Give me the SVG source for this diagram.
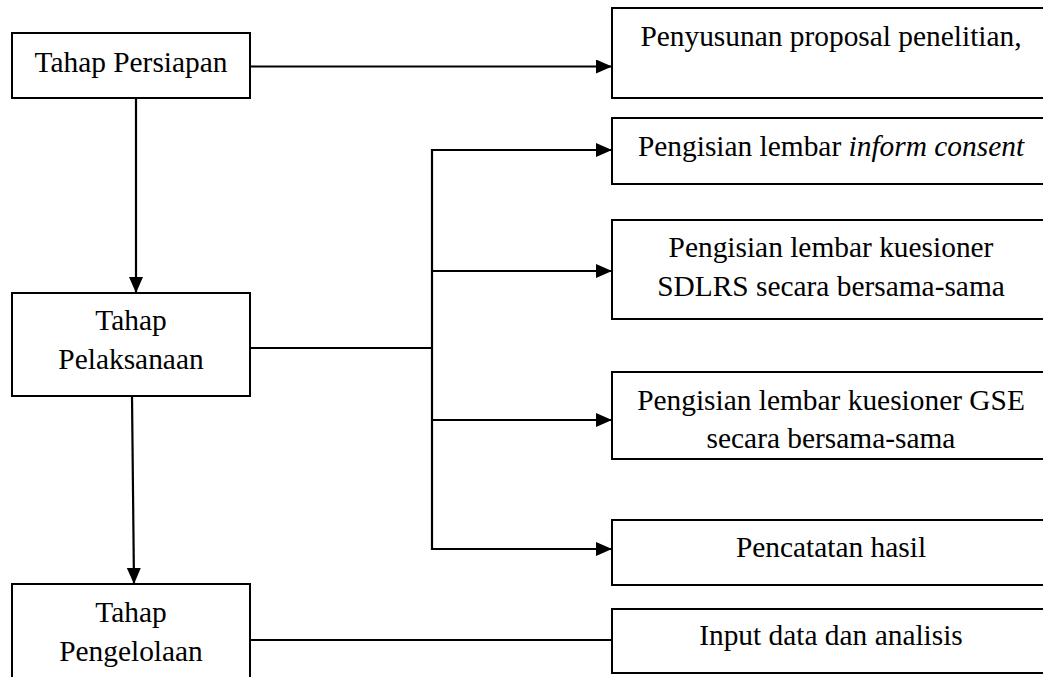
<svg xmlns="http://www.w3.org/2000/svg" width="1043" height="677" viewBox="0 0 1043 677">
<style>
.box{fill:#fff;stroke:#000;stroke-width:2}
.t{font-family:'Liberation Serif','Tinos','DejaVu Serif',serif;font-size:29.4px;fill:#000;text-anchor:middle}
.c{fill:none;stroke:#000;stroke-width:2.2}
</style>
<defs>
<marker id="ah" markerUnits="userSpaceOnUse" markerWidth="17" markerHeight="15" refX="16" refY="7" orient="auto">
<path d="M0,0 L16,7 L0,14 Z" fill="#000"/>
</marker>
</defs>
<rect width="1043" height="677" fill="#fff"/>
<g id="connectors">
<line class="c" x1="250" y1="66.5" x2="612" y2="66.5" marker-end="url(#ah)"/>
<line class="c" x1="136" y1="98" x2="136" y2="293" marker-end="url(#ah)"/>
<line class="c" x1="250" y1="348" x2="432" y2="348"/>
<line class="c" x1="432" y1="149" x2="432" y2="550"/>
<line class="c" x1="431" y1="150" x2="612" y2="150" marker-end="url(#ah)"/>
<line class="c" x1="431" y1="271" x2="612" y2="271" marker-end="url(#ah)"/>
<line class="c" x1="431" y1="420" x2="612" y2="420" marker-end="url(#ah)"/>
<line class="c" x1="431" y1="549" x2="612" y2="549" marker-end="url(#ah)"/>
<line class="c" x1="132" y1="396" x2="134" y2="584" marker-end="url(#ah)"/>
<line class="c" x1="250" y1="640" x2="612" y2="640"/>
</g>
<g id="persiapan">
<rect class="box" x="12" y="33" width="238" height="65"/>
<text class="t" x="131" y="72">Tahap Persiapan</text>
</g>
<g id="pelaksanaan">
<rect class="box" x="12" y="293" width="238" height="103"/>
<text class="t" x="131" y="330">Tahap</text>
<text class="t" x="131" y="369">Pelaksanaan</text>
</g>
<g id="pengelolaan">
<rect class="box" x="12" y="584" width="238" height="110"/>
<text class="t" x="131" y="622">Tahap</text>
<text class="t" x="131" y="661">Pengelolaan</text>
</g>
<g id="proposal">
<rect class="box" x="612" y="8" width="440" height="90"/>
<text class="t" x="831" y="46">Penyusunan proposal penelitian,</text>
</g>
<g id="inform">
<rect class="box" x="612" y="118" width="440" height="66"/>
<text class="t" x="831" y="156">Pengisian lembar <tspan font-style="italic">inform consent</tspan></text>
</g>
<g id="sdlrs">
<rect class="box" x="612" y="220" width="440" height="99"/>
<text class="t" x="831" y="257">Pengisian lembar kuesioner</text>
<text class="t" x="831" y="296">SDLRS secara bersama-sama</text>
</g>
<g id="gse">
<rect class="box" x="612" y="372" width="440" height="87"/>
<text class="t" x="831" y="410">Pengisian lembar kuesioner GSE</text>
<text class="t" x="831" y="448">secara bersama-sama</text>
</g>
<g id="pencatatan">
<rect class="box" x="612" y="520" width="440" height="65"/>
<text class="t" x="831" y="557">Pencatatan hasil</text>
</g>
<g id="input">
<rect class="box" x="612" y="609" width="440" height="64"/>
<text class="t" x="831" y="645">Input data dan analisis</text>
</g>
</svg>
